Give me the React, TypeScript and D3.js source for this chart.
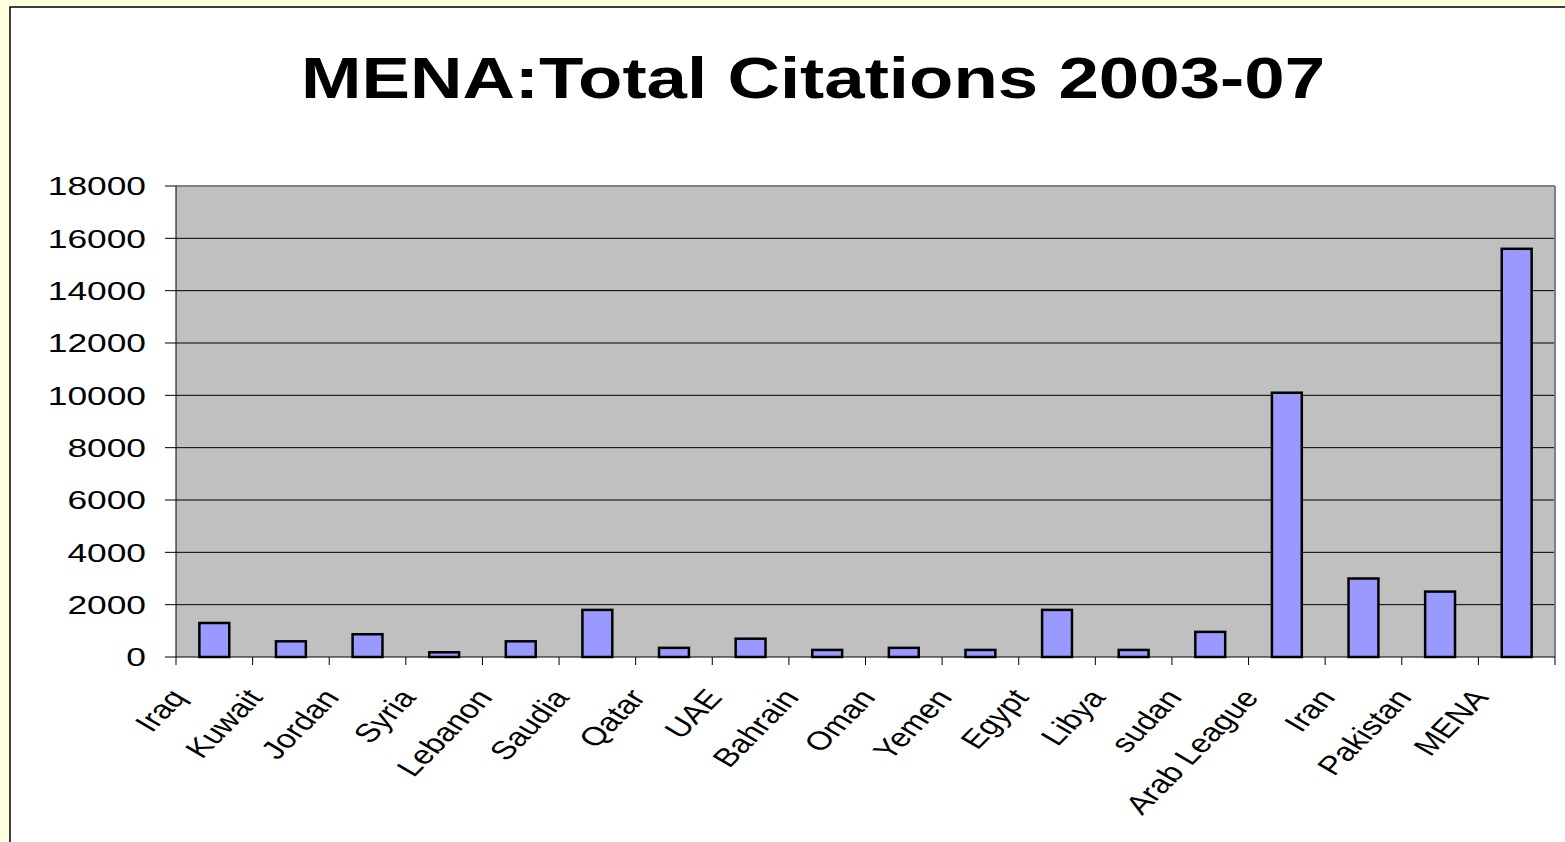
import React from "react";
import * as d3 from "d3";

const categories = ["Iraq","Kuwait","Jordan","Syria","Lebanon","Saudia","Qatar","UAE","Bahrain","Oman","Yemen","Egypt","Libya","sudan","Arab League","Iran","Pakistan","MENA"];
const citations = [1300,600,870,180,600,1800,350,700,270,350,270,1800,270,960,10100,3000,2500,15600];
const yTicks = [0,2000,4000,6000,8000,10000,12000,14000,16000,18000];
const title = "MENA:Total Citations 2003-07";

const W = 1565, H = 842;
const plot = { left: 176, right: 1555, top: 186, bottom: 657 };

export default function App() {
  const x = d3.scaleBand<string>().domain(categories).range([plot.left, plot.right]).paddingInner(0).paddingOuter(0);
  const y = d3.scaleLinear().domain([0, 18000]).range([plot.bottom, plot.top]);
  const bw = x.bandwidth();
  const barW = bw * 0.39;
  const font = "Arial, 'Liberation Sans', sans-serif";
  const sx = 1.3;
  const rot = (Math.atan(sx) * 180) / Math.PI;
  return (
    <div style={{ position: "absolute", left: 0, top: 0 }}>
      <svg width={W} height={H} style={{ display: "block" }}>
        <rect x={0} y={0} width={W} height={H} fill="#FFFFE0" />
        <rect x={10} y={7} width={W} height={H} fill="#FFFFFF" stroke="#000" strokeWidth={1.5} />
        <text transform={`translate(813,98) scale(1.275,1)`} textAnchor="middle" fontFamily={font} fontWeight="bold" fontSize={57} fill="#000">{title}</text>
        <rect x={plot.left} y={plot.top} width={plot.right - plot.left} height={plot.bottom - plot.top} fill="#C0C0C0" />
        {yTicks.map(t => (
          <g key={t}>
            {t > 0 && t < 18000 && <line x1={plot.left} x2={plot.right} y1={y(t)} y2={y(t)} stroke="#000" strokeWidth={1} />}
            <line x1={plot.left - 11} x2={plot.left} y1={y(t)} y2={y(t)} stroke="#000" strokeWidth={1} />
            <text transform={`translate(146,${y(t)}) scale(1.36,1)`} dy="0.36em" textAnchor="end" fontFamily={font} fontSize={26} fill="#000">{t}</text>
          </g>
        ))}
        <line x1={plot.left} x2={plot.right} y1={plot.top} y2={plot.top} stroke="#808080" strokeWidth={2} />
        <line x1={plot.right} x2={plot.right} y1={plot.top} y2={plot.bottom} stroke="#808080" strokeWidth={2} />
        {categories.map((c, i) => (
          <rect key={c} x={(x(c) as number) + bw / 2 - barW / 2} y={y(citations[i])} width={barW} height={plot.bottom - y(citations[i])} fill="#9999FF" stroke="#000" strokeWidth={2.5} />
        ))}
        <line x1={plot.left} x2={plot.left} y1={plot.top} y2={plot.bottom + 8} stroke="#000" strokeWidth={1} />
        <line x1={plot.left} x2={plot.right} y1={plot.bottom} y2={plot.bottom} stroke="#000" strokeWidth={1} />
        {categories.map(c => (
          <line key={"t" + c} x1={(x(c) as number) + bw} x2={(x(c) as number) + bw} y1={plot.bottom} y2={plot.bottom + 8} stroke="#000" strokeWidth={1} />
        ))}
        {categories.map(c => {
          const cx = (x(c) as number) + bw / 2 - 27;
          const cy = 698;
          return (
            <text key={"l" + c} x={0} y={0} textAnchor="end" transform={`translate(${cx},${cy}) scale(${sx},1) rotate(${-rot})`} fontFamily={font} fontSize={26} fill="#000">{c}</text>
          );
        })}
      </svg>
    </div>
  );
}
